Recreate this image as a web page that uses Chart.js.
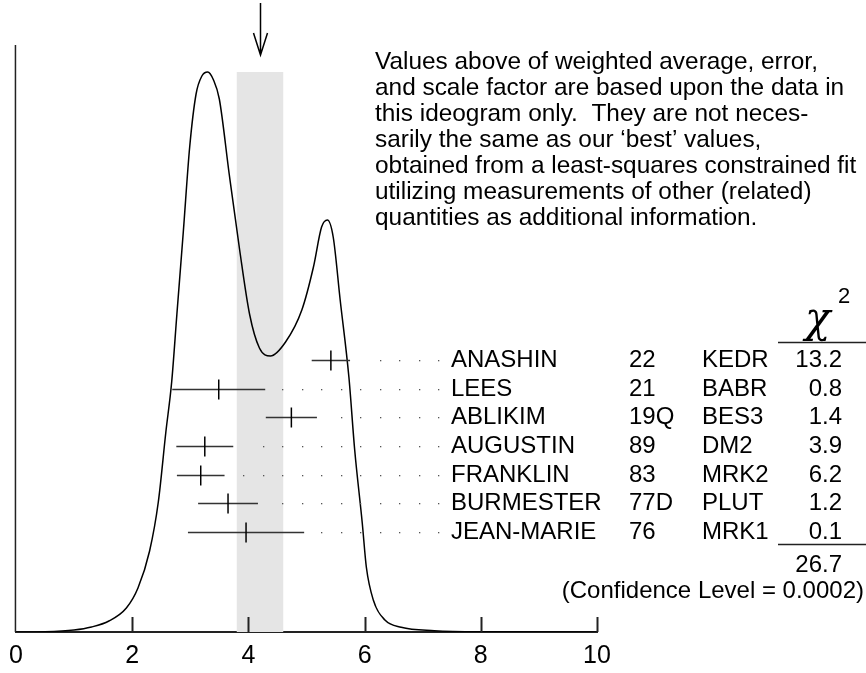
<!DOCTYPE html>
<html>
<head>
<meta charset="utf-8">
<script src="https://cdn.jsdelivr.net/npm/chart.js@4.4.0/dist/chart.umd.min.js"></script>
<style>
  html, body { margin: 0; padding: 0; background: #fff; }
  canvas { display: block; }
</style>
</head>
<body>
<canvas id="ideogram" width="866" height="673"></canvas>
<script>
// measurements, top row first
const names = ["ANASHIN", "LEES", "ABLIKIM", "AUGUSTIN", "FRANKLIN", "BURMESTER", "JEAN-MARIE"];
const refs = ["22", "21", "19Q", "89", "83", "77D", "76"];
const experiments = ["KEDR", "BABR", "BES3", "DM2", "MRK2", "PLUT", "MRK1"];
const values = [5.42, 3.49, 4.74, 3.25, 3.18, 3.65, 3.96];
const errors = [0.33, 0.80, 0.44, 0.49, 0.41, 0.515, 1.00];
const chi2 = [13.2, 0.8, 1.4, 3.9, 6.2, 1.2, 0.1];
const chi2Total = 26.7;
const confidenceLevel = "0.0002";

// weighted average and its error (shaded band + arrow)
const average = 4.2;
const averageErr = 0.4;

const xTicks = [0, 2, 4, 6, 8, 10];

// ideogram curve, read point by point
const curveX = [0, 0.5, 1.0, 1.3, 1.6, 1.9, 2.1, 2.3, 2.45, 2.58, 2.68, 2.77, 2.88, 2.99, 3.1, 3.2, 3.3, 3.4, 3.5, 3.67, 3.85, 4.02, 4.19, 4.38, 4.64, 4.92, 5.12, 5.26, 5.36, 5.46, 5.58, 5.73, 5.83, 5.96, 6.03, 6.15, 6.35, 6.63, 7.2, 8.0, 10];
const curveY = [0, 0.3, 2, 5, 11, 24, 44, 81, 130, 200, 250, 318, 400, 485, 538, 556, 560, 552, 533, 458, 382, 318, 284, 276, 290, 322, 365, 405, 412, 395, 332, 255, 182, 109, 65, 32, 12, 4.7, 1.3, 0.2, 0];

const noteLines = [
  "Values above of weighted average, error,",
  "and scale factor are based upon the data in",
  "this ideogram only.  They are not neces-",
  "sarily the same as our \u2018best\u2019 values,",
  "obtained from a least-squares constrained fit",
  "utilizing measurements of other (related)",
  "quantities as additional information."
];

const SANS = '"Liberation Sans", Arial, Helvetica, sans-serif';
const INK = "#222";

const bandPlugin = {
  id: "band",
  beforeDatasetsDraw(chart) {
    const { ctx, scales: { x, y } } = chart;
    const x0 = x.getPixelForValue(average - averageErr);
    const x1 = x.getPixelForValue(average + averageErr);
    const top = y.getPixelForValue(Math.max(...curveY));
    ctx.save();
    ctx.fillStyle = "#e5e5e5";
    ctx.fillRect(x0, top, x1 - x0, y.getPixelForValue(0) - top);
    ctx.restore();
  }
};

const decorPlugin = {
  id: "decor",
  afterDraw(chart) {
    const { ctx, chartArea, scales: { x, y, yRow } } = chart;
    const base = y.getPixelForValue(0);
    ctx.save();

    // left axis and tick marks pointing up
    ctx.strokeStyle = INK;
    ctx.lineWidth = 1.5;
    ctx.beginPath();
    ctx.moveTo(chartArea.left - 0.5, chartArea.top);
    ctx.lineTo(chartArea.left - 0.5, base);
    ctx.stroke();
    ctx.lineWidth = 2;
    xTicks.slice(1).forEach(t => {
      const px = Math.round(x.getPixelForValue(t)) + 0.5;
      ctx.beginPath();
      ctx.moveTo(px, base);
      ctx.lineTo(px, base - 15);
      ctx.stroke();
    });

    // arrow at the average
    const ax = Math.round(x.getPixelForValue(average)) + 0.5;
    ctx.strokeStyle = "#000";
    ctx.lineWidth = 1.5;
    ctx.beginPath();
    ctx.moveTo(ax, 3);
    ctx.lineTo(ax, 55);
    ctx.moveTo(ax - 7, 33);
    ctx.lineTo(ax, 55);
    ctx.lineTo(ax + 7, 33);
    ctx.stroke();

    // dotted leaders sit on a fixed grid ending at the name column
    const nameX = 451;
    const dotEnd = 438.3, dotStep = 19.5;

    values.forEach((v, i) => {
      const py = Math.round(yRow.getPixelForValue(i)) + 0.5;
      const lo = x.getPixelForValue(v - errors[i]);
      const hi = x.getPixelForValue(v + errors[i]);
      const c = x.getPixelForValue(v);
      ctx.strokeStyle = "#333";
      ctx.lineWidth = 1.5;
      ctx.beginPath();
      ctx.moveTo(lo, py);
      ctx.lineTo(hi, py);
      ctx.stroke();
      ctx.strokeStyle = "#000";
      ctx.beginPath();
      ctx.moveTo(c, py - 10);
      ctx.lineTo(c, py + 10);
      ctx.stroke();

      ctx.fillStyle = "#555";
      for (let dx = dotEnd; dx >= hi + 14; dx -= dotStep) {
        ctx.fillRect(Math.round(dx), py - 0.5, 1.3, 1.3);
      }

      ctx.fillStyle = "#000";
      ctx.font = "24px " + SANS;
      ctx.textBaseline = "middle";
      ctx.textAlign = "left";
      ctx.fillText(names[i], nameX, py);
      ctx.fillText(refs[i], 629, py);
      ctx.fillText(experiments[i], 702, py);
      ctx.textAlign = "right";
      ctx.fillText(chi2[i].toFixed(1), 842, py);
    });

    // chi-squared column header and total
    ctx.strokeStyle = INK;
    ctx.lineWidth = 1.5;
    ctx.beginPath();
    ctx.moveTo(778, 342.5);
    ctx.lineTo(866, 342.5);
    ctx.moveTo(778, 544.5);
    ctx.lineTo(866, 544.5);
    ctx.stroke();

    ctx.fillStyle = "#000";
    ctx.textAlign = "left";
    ctx.textBaseline = "alphabetic";
    ctx.font = 'italic 42px "DejaVu Serif", serif';
    ctx.fillText("\u03c7", 805, 332);
    ctx.font = "22px " + SANS;
    ctx.fillText("2", 838, 303);

    ctx.textBaseline = "middle";
    ctx.font = "24px " + SANS;
    ctx.textAlign = "right";
    ctx.fillText(chi2Total.toFixed(1), 842, 565);
    ctx.fillText("(Confidence Level = " + confidenceLevel + ")", 864, 591);

    // note block
    ctx.textAlign = "left";
    ctx.font = "24.4px " + SANS;
    noteLines.forEach((line, i) => ctx.fillText(line, 375, 62 + i * 26));

    ctx.restore();
  }
};

new Chart(document.getElementById("ideogram").getContext("2d"), {
  type: "scatter",
  data: {
    datasets: [{
      data: curveX.map((cx, i) => ({ x: cx, y: curveY[i] })),
      showLine: true,
      borderColor: "#000",
      borderWidth: 1.5,
      pointRadius: 0,
      cubicInterpolationMode: "monotone",
      fill: false
    }]
  },
  options: {
    responsive: false,
    animation: false,
    devicePixelRatio: 1,
    layout: { padding: { left: 12, right: 269, top: 45, bottom: 0 } },
    plugins: { legend: { display: false }, tooltip: { enabled: false } },
    scales: {
      x: {
        type: "linear",
        min: 0,
        max: 10,
        afterBuildTicks: axis => { axis.ticks = xTicks.map(v => ({ value: v })); },
        afterFit: axis => { axis.height = 41; },
        ticks: { color: "#000", padding: 9, font: { family: SANS, size: 25 } },
        grid: { display: false, drawTicks: false },
        border: { display: true, color: INK, width: 2 }
      },
      y: { display: false, min: 0, max: 587 },
      yRow: { axis: "y", display: false, min: -11, max: 9.5, reverse: true }
    }
  },
  plugins: [bandPlugin, decorPlugin]
});
</script>
</body>
</html>
